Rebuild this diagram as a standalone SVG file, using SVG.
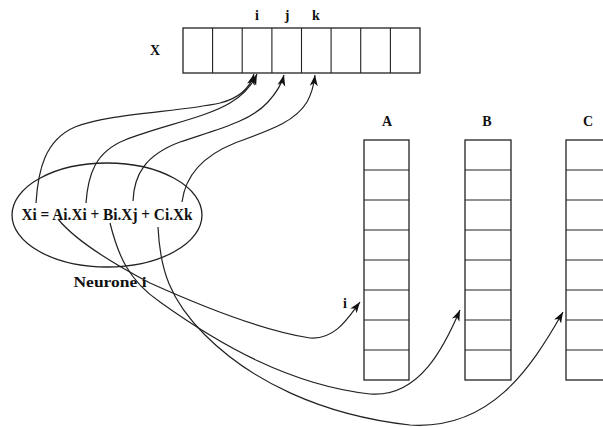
<svg xmlns="http://www.w3.org/2000/svg" width="603" height="427" viewBox="0 0 603 427">
<style>
.box{fill:none;stroke:#222;stroke-width:1.3}
.div{stroke:#222;stroke-width:1.1}
.lbl{font-family:"Liberation Serif","Times New Roman",serif;font-weight:bold;fill:#111;text-anchor:middle}
.con{fill:none;stroke:#222;stroke-width:1.2}
</style>
<defs>
<marker id="ah" markerUnits="userSpaceOnUse" markerWidth="12" markerHeight="10" refX="11" refY="4" orient="auto">
<path d="M0,0 L11,4 L0,8 L3,4 z" fill="#111"/>
</marker>
</defs>
<rect width="603" height="427" fill="#fff"/>
<g id="arrayX">
<rect class="box" x="183" y="28" width="237" height="45"/>
<path class="div" d="M212.6,28V73M242.2,28V73M271.9,28V73M301.5,28V73M331.1,28V73M360.7,28V73M390.4,28V73"/>
<text class="lbl" x="155" y="55" font-size="14">X</text>
<text class="lbl" x="257" y="20" font-size="14">i</text>
<text class="lbl" x="287" y="20" font-size="14">j</text>
<text class="lbl" x="316" y="20" font-size="14">k</text>
</g>
<g id="arrayA">
<rect class="box" x="364" y="140" width="45" height="240"/>
<path class="div" d="M364,170H409M364,200H409M364,230H409M364,260H409M364,290H409M364,320H409M364,350H409"/>
<text class="lbl" x="387" y="126" font-size="14">A</text>
<text class="lbl" x="345" y="308" font-size="14">i</text>
</g>
<g id="arrayB">
<rect class="box" x="465" y="140" width="46" height="240"/>
<path class="div" d="M465,170H511M465,200H511M465,230H511M465,260H511M465,290H511M465,320H511M465,350H511"/>
<text class="lbl" x="487" y="126" font-size="14">B</text>
</g>
<g id="arrayC">
<rect class="box" x="566" y="140" width="46" height="240"/>
<path class="div" d="M566,170H612M566,200H612M566,230H612M566,260H612M566,290H612M566,320H612M566,350H612"/>
<text class="lbl" x="588" y="126" font-size="14">C</text>
</g>
<g id="neurone">
<ellipse class="box" cx="107" cy="215" rx="95" ry="52"/>
<text class="lbl" x="107" y="220" font-size="16" textLength="171" lengthAdjust="spacingAndGlyphs">Xi = Ai.Xi + Bi.Xj + Ci.Xk</text>
<text class="lbl" x="110" y="287" font-size="15" textLength="73" lengthAdjust="spacingAndGlyphs">Neurone i</text>
</g>
<g id="connectors">
<path class="con" marker-end="url(#ah)" d="M36,203 C38,170 45,140 75,127 C110,113 180,112 220,103 C240,98 250,88 254,74"/>
<path class="con" marker-end="url(#ah)" d="M86,203 C88,175 95,152 125,140 C160,126 205,118 230,103 C245,94 252,85 257,74"/>
<path class="con" marker-end="url(#ah)" d="M133,201 C134,175 145,155 180,142 C215,130 250,122 268,102 C277,92 282,83 284,75"/>
<path class="con" marker-end="url(#ah)" d="M182,202 C185,178 200,157 235,143 C270,130 295,122 307,102 C312,93 314,84 315,75"/>
<path class="con" marker-end="url(#ah)" d="M58,219 C75,240 110,262 150,283 C210,310 270,332 310,338 C335,340 348,318 360,302"/>
<path class="con" marker-end="url(#ah)" d="M110,223 C118,255 128,280 160,302 C220,345 290,385 370,394 C420,398 445,345 460,310"/>
<path class="con" marker-end="url(#ah)" d="M158,227 C160,270 170,300 205,335 C250,380 320,415 410,425 C490,430 530,370 563,312"/>
</g>
</svg>
